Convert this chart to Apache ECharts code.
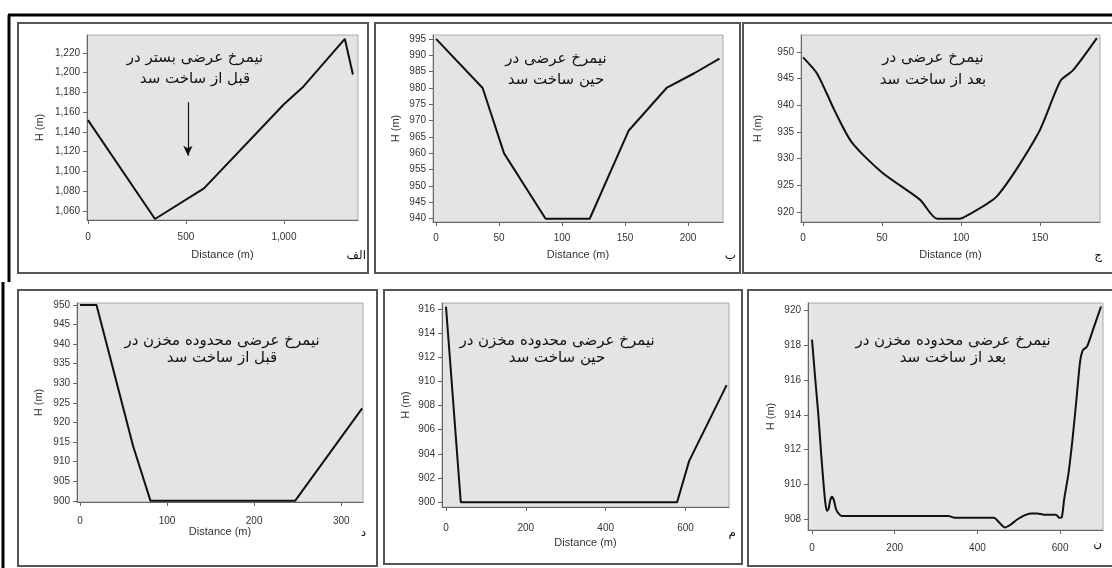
<!DOCTYPE html>
<html>
<head>
<meta charset="utf-8">
<script src="https://cdn.jsdelivr.net/npm/echarts@6/dist/echarts.min.js"></script>
<style>
  html, body { margin: 0; background: #fff; }
  #chart { width: 1112px; height: 568px; }
</style>
</head>
<body>
<div id="chart"></div>
<script>
// cross sections: [distance (m), H (m)]
const bedBefore = [[0, 1152], [342, 1052], [592, 1083], [1000, 1168], [1100, 1186], [1311, 1234], [1352, 1198]]
const bedDuring = [[0, 995], [37, 980], [54, 960], [87, 940], [122, 940], [153, 967], [183, 980], [205, 984.5], [225, 989]]
const bedAfter = [[0, 949], [9, 945.9], [20, 939], [31, 933], [50, 927.4], [74, 922.3], [85, 918.7], [99, 918.7], [105, 919.5],
  [123, 923], [149, 934.8], [163, 944.6], [171, 946.6], [186, 952.6]]
const resBefore = [[0, 950], [19, 950], [61, 914], [81, 900], [247, 900], [324, 923.6]]
const resDuring = [[0, 916.2], [37, 900], [579, 900], [609, 903.4], [703, 909.7]]
const resAfter = [[0, 918.3], [8, 916], [15, 914.1], [22, 911.8], [27, 910.3], [32, 909], [36, 908.5], [40, 908.6], [44, 909.1],
  [48, 909.3], [53, 909.1], [58, 908.6], [64, 908.35], [72, 908.2], [200, 908.2], [330, 908.2], [345, 908.1], [440, 908.1],
  [450, 907.9], [460, 907.65], [467, 907.55], [480, 907.7], [496, 908], [515, 908.25], [529, 908.35], [545, 908.35],
  [561, 908.28], [590, 908.28], [598, 908.1], [604, 908.12], [610, 909.2], [620, 910.6], [630, 912.6], [640, 915],
  [648, 917], [655, 917.7], [665, 917.9], [680, 918.9], [699, 920.2]]

// arrow in the first panel: x, from H, to H
const arrowX = 510
const arrowFrom = 1170
const arrowTo = 1116

// tick labels
const xTicksBed = [0, 500, 1000]
const yTicksBed = [1060, 1080, 1100, 1120, 1140, 1160, 1180, 1200, 1220]
const xTicks50 = [0, 50, 100, 150, 200]
const yTicksDuring = [940, 945, 950, 955, 960, 965, 970, 975, 980, 985, 990, 995]
const xTicksAfter = [0, 50, 100, 150]
const yTicksAfter = [920, 925, 930, 935, 940, 945, 950]
const xTicks100 = [0, 100, 200, 300]
const yTicksRes1 = [900, 905, 910, 915, 920, 925, 930, 935, 940, 945, 950]
const xTicks200 = [0, 200, 400, 600]
const yTicksRes2 = [900, 902, 904, 906, 908, 910, 912, 914, 916]
const yTicksRes3 = [908, 910, 912, 914, 916, 918, 920]

const titles = [
  'نیمرخ عرضی بستر در\nقبل از ساخت سد',
  'نیمرخ عرضی در\nحین ساخت سد',
  'نیمرخ عرضی در\nبعد از ساخت سد',
  'نیمرخ عرضی محدوده مخزن در\nقبل از ساخت سد',
  'نیمرخ عرضی محدوده مخزن در\nحین ساخت سد',
  'نیمرخ عرضی محدوده مخزن در\nبعد از ساخت سد',
]
const letters = ['الف', 'ب', 'ج', 'د', 'م', 'ن']

const panels = [
  { data: bedBefore, x: [-5, 1378], y: [1051, 1238], xt: xTicksBed, yt: yTicksBed, comma: true,
    grid: { left: 87, top: 35, width: 271, height: 185 }, box: [18, 23, 350, 250], yGap: 42, xGap: 29, xMargin: 12,
    title: [195, 48], lh: 21, letter: [366, 250] },
  { data: bedDuring, x: [-2.4, 227.8], y: [939, 996.2], xt: xTicks50, yt: yTicksDuring,
    grid: { left: 433, top: 35, width: 290, height: 187 }, box: [375, 23, 365, 250], yGap: 32, xGap: 27, xMargin: 11,
    title: [556, 49], lh: 21, letter: [736, 250] },
  { data: bedAfter, x: [-1.3, 188], y: [918.1, 953.2], xt: xTicksAfter, yt: yTicksAfter, smooth: 0.25,
    grid: { left: 801, top: 35, width: 299, height: 187 }, box: [743, 23, 380, 250], yGap: 38, xGap: 27, xMargin: 11,
    title: [933, 47], lh: 22, letter: [1102, 250] },
  { data: resBefore, x: [-3.4, 325], y: [899.7, 950.5], xt: xTicks100, yt: yTicksRes1,
    grid: { left: 77, top: 303, width: 286, height: 199 }, box: [18, 290, 359, 276], yGap: 33, xGap: 24, xMargin: 14,
    title: [222, 333], lh: 17, letter: [366, 527] },
  { data: resDuring, x: [-10, 709], y: [899.6, 916.5], xt: xTicks200, yt: yTicksRes2,
    grid: { left: 442, top: 303, width: 287, height: 204 }, box: [384, 290, 358, 274], yGap: 31, xGap: 30, xMargin: 16,
    title: [557, 333], lh: 17, letter: [736, 527] },
  { data: resAfter, x: [-9.7, 703.7], y: [907.4, 920.4], xt: xTicks200, yt: yTicksRes3, smooth: 0.2,
    grid: { left: 808, top: 303, width: 295, height: 227 }, box: [748, 290, 380, 276], yGap: 32, xGap: null, xMargin: 13,
    title: [953, 333], lh: 17, letter: [1102, 538] },
]

const tickFont = { fontFamily: 'Liberation Sans', fontSize: 10, color: '#333' }
const nameFont = { fontFamily: 'Liberation Sans', fontSize: 11, color: '#333' }
const fmt = comma => v => comma ? v.toLocaleString('en-US') : String(v)

const graphic = [
  { type: 'line', shape: { x1: 8, y1: 15, x2: 1112, y2: 15 }, style: { stroke: '#000', lineWidth: 3 } },
  { type: 'line', shape: { x1: 9, y1: 15, x2: 9, y2: 282 }, style: { stroke: '#000', lineWidth: 3 } },
  { type: 'line', shape: { x1: 3, y1: 282, x2: 3, y2: 568 }, style: { stroke: '#000', lineWidth: 3 } },
]
panels.forEach((p, i) => {
  graphic.push({ type: 'rect', z: 0, shape: { x: p.box[0], y: p.box[1], width: p.box[2], height: p.box[3] },
    style: { fill: 'none', stroke: '#555', lineWidth: 2 } })
  graphic.push({ type: 'text', z: 10, x: p.title[0], y: p.title[1],
    style: { text: titles[i], textAlign: 'center', textVerticalAlign: 'top', fill: '#111',
      font: '15px "DejaVu Sans"', lineHeight: p.lh } })
  graphic.push({ type: 'text', z: 10, x: p.letter[0], y: p.letter[1],
    style: { text: letters[i], textAlign: 'right', textVerticalAlign: 'top', fill: '#111',
      font: '12px "DejaVu Sans"' } })
})

const option = {
  animation: false,
  backgroundColor: '#fff',
  graphic,
  grid: panels.map(p => Object.assign({ show: true, backgroundColor: '#e4e4e4', borderColor: '#aaa', borderWidth: 1 }, p.grid)),
  xAxis: panels.map((p, i) => ({
    type: 'value', gridIndex: i, min: p.x[0], max: p.x[1],
    name: p.xGap == null ? '' : 'Distance (m)', nameLocation: 'middle', nameGap: p.xGap || 0, nameTextStyle: nameFont,
    axisLine: { show: true, onZero: false, lineStyle: { color: '#666' } },
    axisTick: { show: true, length: 4, customValues: p.xt, lineStyle: { color: '#666' } },
    axisLabel: Object.assign({ customValues: p.xt, margin: p.xMargin, formatter: fmt(p.comma) }, tickFont),
    splitLine: { show: false },
  })),
  yAxis: panels.map((p, i) => ({
    type: 'value', gridIndex: i, min: p.y[0], max: p.y[1],
    name: 'H (m)', nameLocation: 'middle', nameGap: p.yGap, nameTextStyle: nameFont,
    axisLine: { show: true, onZero: false, lineStyle: { color: '#666' } },
    axisTick: { show: true, length: 4, customValues: p.yt, lineStyle: { color: '#666' } },
    axisLabel: Object.assign({ customValues: p.yt, margin: 7, formatter: fmt(p.comma) }, tickFont),
    splitLine: { show: false },
  })),
  series: panels.map((p, i) => {
    const s = {
      type: 'line', xAxisIndex: i, yAxisIndex: i, data: p.data, showSymbol: false, smooth: p.smooth || false,
      lineStyle: { color: '#111', width: 2 }, z: 5,
    }
    if (i === 0) {
      s.markLine = {
        silent: true, symbol: ['none', 'arrow'], symbolSize: [7, 10], label: { show: false },
        lineStyle: { color: '#111', type: 'solid', width: 1.2 },
        data: [[{ coord: [arrowX, arrowFrom] }, { coord: [arrowX, arrowTo] }]],
      }
    }
    return s
  }),
}

const chart = echarts.init(document.getElementById('chart'), null, { renderer: 'canvas' })
chart.setOption(option)
</script>
</body>
</html>
